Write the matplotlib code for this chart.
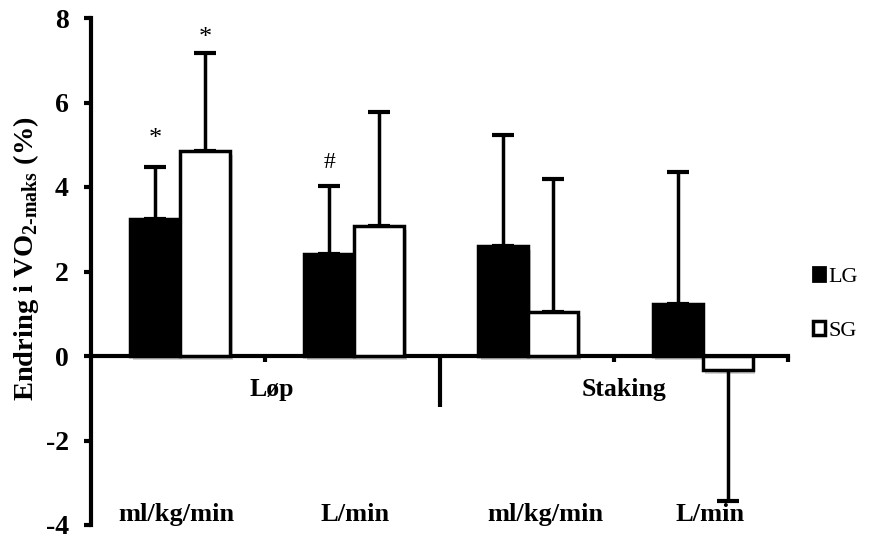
import numpy as np
import matplotlib.pyplot as plt
import matplotlib.patheffects as pe
from matplotlib.patches import Patch

plt.rcParams['font.family'] = ['Liberation Serif', 'DejaVu Serif']
plt.rcParams['mathtext.fontset'] = 'custom'
plt.rcParams['mathtext.rm'] = 'Liberation Serif:bold'
plt.rcParams['mathtext.bf'] = 'Liberation Serif:bold'

# data
units = ['ml/kg/min', 'L/min', 'ml/kg/min', 'L/min']
modes = ['Løp', 'Staking']
lg_mean = [3.24, 2.41, 2.61, 1.23]
lg_sd = [1.23, 1.61, 2.62, 3.12]
sg_mean = [4.85, 3.08, 1.04, -0.33]
sg_sd = [2.31, 2.70, 3.16, 3.10]
lg_mark = ['*', '#', '', '']
sg_mark = ['*', '', '', '']

fig = plt.figure(figsize=(8.9, 5.35), dpi=100)
ax = fig.add_axes([91/890, 10/535, 697/890, 507/535])

x = np.arange(len(units)) + 0.51
w = 0.287
shadow = [pe.SimplePatchShadow(offset=(2, -3), shadow_rgbFace='k', alpha=0.18), pe.Normal()]

b1 = ax.bar(x - w/2, lg_mean, w, color='black', edgecolor='black', linewidth=2.5, zorder=3)
b2 = ax.bar(x + w/2, sg_mean, w, color='white', edgecolor='black', linewidth=2.5, zorder=3)
for p in list(b1) + list(b2):
    p.set_path_effects(shadow)

# one-sided error bars (away from zero)
lg_err = [[0]*4, lg_sd]
sg_lo = [s if m < 0 else 0 for m, s in zip(sg_mean, sg_sd)]
sg_hi = [s if m >= 0 else 0 for m, s in zip(sg_mean, sg_sd)]
ax.errorbar(x - w/2, lg_mean, yerr=lg_err, fmt='none', ecolor='black',
            elinewidth=2.5, capsize=8, capthick=3, zorder=2)
ax.errorbar(x + w/2, sg_mean, yerr=[sg_lo, sg_hi], fmt='none', ecolor='black',
            elinewidth=2.5, capsize=8, capthick=3, zorder=2)

for i in range(len(units)):
    if lg_mark[i]:
        off = 0.3 if lg_mark[i] == '#' else 0.4
        ax.text(x[i] - w/2, lg_mean[i] + lg_sd[i] + off, lg_mark[i], ha='center',
                va='bottom', fontsize=17 if lg_mark[i] == '#' else 19)
    if sg_mark[i]:
        ax.text(x[i] + w/2, sg_mean[i] + sg_sd[i] + 0.1, sg_mark[i], ha='center',
                va='bottom', fontsize=19)

ax.set_xlim(0, 4)
ax.set_ylim(-4, 8)
ax.set_yticks(np.arange(-4, 9, 2))
ax.set_yticklabels([str(v) for v in range(-4, 9, 2)], fontweight='bold', fontsize=20)
ax.tick_params(axis='y', direction='out', length=5, width=3, pad=11)

ax.set_xticks([1, 3, 4])
ax.set_xticklabels([])
ax.tick_params(axis='x', which='major', direction='out', length=4, width=3)
ax.set_xticks([2], minor=True)
ax.tick_params(axis='x', which='minor', direction='out', length=37, width=3)

for s in ['top', 'right']:
    ax.spines[s].set_visible(False)
ax.spines['left'].set_linewidth(3)
ax.spines['bottom'].set_linewidth(3)
ax.spines['bottom'].set_position(('data', 0))

# category labels
mode_x = [1.04, 3.06]
for mx, m in zip(mode_x, modes):
    ax.text(mx, -0.8, m, ha='center', va='center', fontweight='bold', fontsize=18.5)
unit_x = [0.49, 1.515, 2.61, 3.55]
for ux, u in zip(unit_x, units):
    ax.text(ux, -3.76, u, ha='center', va='center', fontweight='bold', fontsize=19)

ax.set_ylabel(r'Endring i VO$_{\text{2-maks}}$ (%)', fontweight='bold', fontsize=20.5)
ax.yaxis.set_label_coords(-0.072, 0.525)

handles = [Patch(facecolor='black', edgecolor='black', linewidth=2),
           Patch(facecolor='white', edgecolor='black', linewidth=2.5)]
fig.legend(handles, ['LG', 'SG'], loc='center left', bbox_to_anchor=(793/890, 1 - 304/535),
           frameon=False, handlelength=0.55, handleheight=0.55, handletextpad=0.15,
           labelspacing=1.55, fontsize=16)

fig.savefig('out.png', dpi=100)
